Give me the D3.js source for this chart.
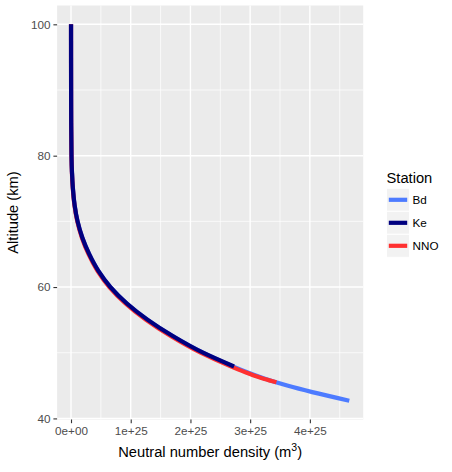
<!DOCTYPE html>
<html>
<head>
<meta charset="utf-8">
<script src="https://cdn.jsdelivr.net/npm/d3@7"></script>
<style>
  body { margin: 0; background: #fff; }
  text { font-family: "Liberation Sans", Arial, sans-serif; }
</style>
</head>
<body>
<div id="chart"></div>
<script>
// station names, legend order
const stations = ["Bd", "Ke", "NNO"];

// altitude (km) and neutral number density (m^3)
const bdAltitude = [100, 95, 90, 85, 80, 77.5, 75, 72.5, 70, 67.5, 65, 62.5, 60, 57.5, 55, 52.5, 50, 48, 47, 46, 45, 44, 42.7];
const bdDensity = [0.0003e25, 0.0007e25, 0.0015e25, 0.003e25, 0.008e25, 0.016e25, 0.032e25, 0.06e25, 0.11e25, 0.19e25, 0.305e25, 0.455e25, 0.66e25, 0.935e25, 1.285e25, 1.71e25, 2.21e25, 2.69e25, 2.96e25, 3.26e25, 3.62e25, 4.04e25, 4.66e25];

const keAltitude = [100, 95, 90, 85, 80, 77.5, 75, 72.5, 70, 67.5, 65, 62.5, 60, 57.5, 55, 52.5, 50, 47.9];
const keDensity = [0.0003e25, 0.0007e25, 0.0015e25, 0.003e25, 0.008e25, 0.016e25, 0.032e25, 0.06e25, 0.11e25, 0.19e25, 0.305e25, 0.455e25, 0.66e25, 0.935e25, 1.285e25, 1.71e25, 2.21e25, 2.73e25];

const nnoAltitude = [100, 95, 90, 85, 80, 77.5, 75, 72.5, 70, 67.5, 65, 62.5, 60, 57.5, 55, 52.5, 50, 48, 47, 46, 45.5];
const nnoDensity = [0.0003e25, 0.0007e25, 0.0014e25, 0.0028e25, 0.0075e25, 0.015e25, 0.03e25, 0.057e25, 0.105e25, 0.182e25, 0.293e25, 0.44e25, 0.642e25, 0.912e25, 1.255e25, 1.675e25, 2.17e25, 2.655e25, 2.93e25, 3.24e25, 3.44e25];

const xTicks = [0, 1e25, 2e25, 3e25, 4e25];
const xTickLabels = ["0e+00", "1e+25", "2e+25", "3e+25", "4e+25"];
const yTicks = [40, 60, 80, 100];

const series = [
  { name: "Bd", alt: bdAltitude, dens: bdDensity },
  { name: "NNO", alt: nnoAltitude, dens: nnoDensity },
  { name: "Ke", alt: keAltitude, dens: keDensity },
];

const width = 452, height = 472;
const panel = { left: 57.1, right: 363.2, top: 5.5, bottom: 419.5 };

const allDens = bdDensity.concat(keDensity, nnoDensity);
const allAlt = bdAltitude.concat(keAltitude, nnoAltitude);
const x1 = d3.max(allDens);
const [y0, y1] = d3.extent(allAlt);
const xPad = x1 * 0.05, yPad = (y1 - y0) * 0.05;

const x = d3.scaleLinear().domain([-xPad, x1 + xPad]).range([panel.left, panel.right]);
const y = d3.scaleLinear().domain([y0 - yPad, y1 + yPad]).range([panel.bottom, panel.top]);

const color = d3.scaleOrdinal().domain(stations).range(["#4D7BFF", "#00007F", "#FF3030"]);

const svg = d3.select("#chart").append("svg")
  .attr("width", width)
  .attr("height", height);

// panel background
svg.append("rect")
  .attr("x", panel.left).attr("y", panel.top)
  .attr("width", panel.right - panel.left)
  .attr("height", panel.bottom - panel.top)
  .attr("fill", "#EBEBEB");

// minor grid
const xMinor = d3.range(0.5e25, 5e25, 1e25).filter((d) => d < x.domain()[1]);
const yMinor = [50, 70, 90];
const grid = svg.append("g").attr("stroke", "#fff").attr("fill", "none");
grid.selectAll(".xm").data(xMinor).join("line")
  .attr("x1", (d) => x(d)).attr("x2", (d) => x(d))
  .attr("y1", panel.top).attr("y2", panel.bottom)
  .attr("stroke-width", 0.7);
grid.selectAll(".ym").data(yMinor).join("line")
  .attr("y1", (d) => y(d)).attr("y2", (d) => y(d))
  .attr("x1", panel.left).attr("x2", panel.right)
  .attr("stroke-width", 0.7);
// major grid
grid.selectAll(".xM").data(xTicks).join("line")
  .attr("x1", (d) => x(d)).attr("x2", (d) => x(d))
  .attr("y1", panel.top).attr("y2", panel.bottom)
  .attr("stroke-width", 1.4);
grid.selectAll(".yM").data(yTicks).join("line")
  .attr("y1", (d) => y(d)).attr("y2", (d) => y(d))
  .attr("x1", panel.left).attr("x2", panel.right)
  .attr("stroke-width", 1.4);

// lines
const line = d3.line()
  .x((d) => x(d[1]))
  .y((d) => y(d[0]))
  .curve(d3.curveMonotoneY);

svg.append("g")
  .attr("fill", "none")
  .selectAll("path")
  .data(series)
  .join("path")
  .attr("stroke", (d) => color(d.name))
  .attr("stroke-width", 4.2)
  .attr("d", (d) => line(d.alt.map((a, i) => [a, d.dens[i]])));

// axes
const xAxis = d3.axisBottom(x)
  .tickValues(xTicks)
  .tickFormat((d, i) => xTickLabels[i])
  .tickSize(3.7)
  .tickPadding(3);
const yAxis = d3.axisLeft(y)
  .tickValues(yTicks)
  .tickSize(3.7)
  .tickPadding(3);

const gx = svg.append("g").attr("transform", `translate(0,${panel.bottom})`).call(xAxis);
const gy = svg.append("g").attr("transform", `translate(${panel.left},0)`).call(yAxis);
for (const g of [gx, gy]) {
  g.select(".domain").remove();
  g.selectAll(".tick line").attr("stroke", "#333").attr("stroke-width", 1.1);
  g.selectAll(".tick text")
    .attr("fill", "#4D4D4D")
    .attr("font-size", 11.7)
    .attr("font-family", "Liberation Sans, Arial, sans-serif");
}

// axis titles
const xTitle = svg.append("text")
  .attr("x", (panel.left + panel.right) / 2)
  .attr("y", 457)
  .attr("text-anchor", "middle")
  .attr("font-size", 14.7)
  .attr("fill", "#000");
xTitle.append("tspan").text("Neutral number density (m");
xTitle.append("tspan").text("3").attr("font-size", 10.5).attr("dy", -6);
xTitle.append("tspan").text(")").attr("dy", 6);

svg.append("text")
  .attr("transform", `translate(18,${(panel.top + panel.bottom) / 2}) rotate(-90)`)
  .attr("text-anchor", "middle")
  .attr("font-size", 14.7)
  .attr("fill", "#000")
  .text("Altitude (km)");

// legend
const legend = svg.append("g").attr("transform", "translate(386.5,0)");
legend.append("text")
  .attr("x", 0).attr("y", 182.5)
  .attr("font-size", 14.7)
  .text("Station");

const key = legend.selectAll(".key").data(stations).join("g")
  .attr("transform", (d, i) => `translate(0,${188.3 + i * 23})`);
key.append("rect")
  .attr("width", 23).attr("height", 23)
  .attr("fill", "#F2F2F2")
  .attr("stroke", "#fff")
  .attr("stroke-width", 1);
key.append("line")
  .attr("x1", 2.3).attr("x2", 20.7)
  .attr("y1", 11.5).attr("y2", 11.5)
  .attr("stroke", (d) => color(d))
  .attr("stroke-width", 4.2);
key.append("text")
  .attr("x", 26).attr("y", 11.5)
  .attr("dy", "0.35em")
  .attr("font-size", 11.7)
  .text((d) => d);
</script>
</body>
</html>
